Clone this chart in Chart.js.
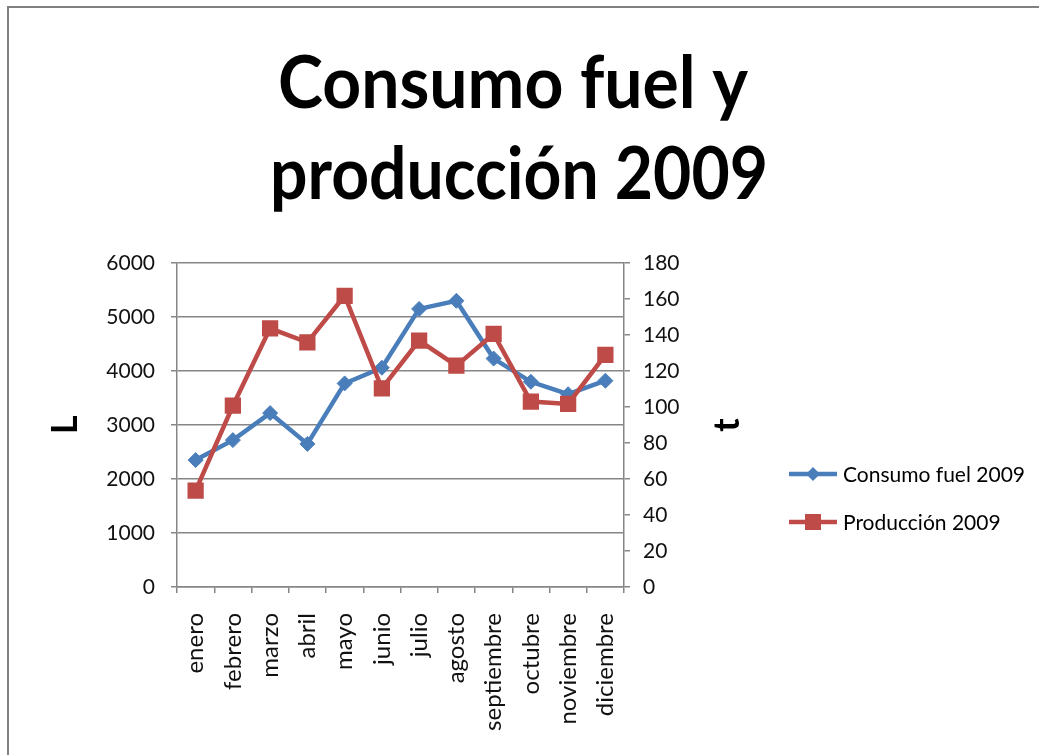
<!DOCTYPE html>
<html>
<head>
<meta charset="utf-8">
<script src="https://cdn.jsdelivr.net/npm/chart.js@4"></script>
<style>
  html, body { margin: 0; padding: 0; background: #fff; }
  #wrap { width: 1039px; height: 755px; position: relative; }
</style>
</head>
<body>
<div id="wrap"><canvas id="grafico"></canvas></div>
<script>
// Datos 2009
const meses = ['enero', 'febrero', 'marzo', 'abril', 'mayo', 'junio', 'julio', 'agosto', 'septiembre', 'octubre', 'noviembre', 'diciembre'];
const consumoFuel = [2350, 2720, 3220, 2650, 3770, 4060, 5150, 5300, 4230, 3800, 3570, 3820];
const produccion = [53.5, 100.7, 143.7, 135.9, 161.8, 110.4, 136.9, 123, 140.6, 103, 101.7, 128.9];
const titulo = ['Consumo fuel y', 'producción 2009'];

const AZUL = '#4A7EBB';
const ROJO = '#BE4B48';
const FUENTE = 'Lato, "Open Sans", sans-serif';

// title, axis titles, legend and frame
const extras = {
    id: 'extras',
    beforeDraw(chart) {
        const ctx = chart.ctx;
        ctx.save();
        ctx.strokeStyle = '#808080';
        ctx.lineWidth = 2;
        ctx.beginPath();
        ctx.moveTo(8, 755);
        ctx.lineTo(8, 7);
        ctx.lineTo(1039, 7);
        ctx.stroke();
        ctx.restore();
    },
    afterDraw(chart) {
        const ctx = chart.ctx;
        ctx.save();
        ctx.fillStyle = '#000';
        ctx.textAlign = 'center';
        ctx.textBaseline = 'alphabetic';
        ctx.font = 'bold 72px ' + FUENTE;
        ctx.fillText(titulo[0], 513, 108, 470);
        ctx.fillText(titulo[1], 519, 199, 498);

        // axis titles
        ctx.font = 'bold 36px ' + FUENTE;
        ctx.textBaseline = 'middle';
        [['L', 65], ['t', 727]].forEach(([txt, x]) => {
            ctx.save();
            ctx.translate(x, 425);
            ctx.rotate(-Math.PI / 2);
            ctx.fillText(txt, 0, 0);
            ctx.restore();
        });

        // legend
        ctx.font = '21px ' + FUENTE;
        ctx.textAlign = 'left';
        chart.data.datasets.forEach((ds, i) => {
            const y = [474, 522][i];
            ctx.strokeStyle = ds.borderColor;
            ctx.lineWidth = 4.5;
            ctx.beginPath();
            ctx.moveTo(789, y);
            ctx.lineTo(837, y);
            ctx.stroke();
            ctx.fillStyle = ds.backgroundColor;
            ctx.beginPath();
            if (ds.pointStyle === 'rect') {
                ctx.rect(813 - 8, y - 8, 16, 16);
            } else {
                ctx.moveTo(813, y - 7); ctx.lineTo(820, y); ctx.lineTo(813, y + 7); ctx.lineTo(806, y);
                ctx.closePath();
            }
            ctx.fill();
            ctx.fillStyle = '#000';
            ctx.fillText(ds.label, 843, y + 1);
        });
        ctx.restore();
    }
};

new Chart(document.getElementById('grafico'), {
    type: 'line',
    data: {
        labels: meses,
        datasets: [
            {
                label: 'Consumo fuel 2009',
                data: consumoFuel,
                yAxisID: 'yL',
                borderColor: AZUL,
                backgroundColor: AZUL,
                borderWidth: 4.5,
                pointStyle: 'rectRot',
                pointRadius: 7.5,
                pointBorderWidth: 1,
                tension: 0,
                order: 1
            },
            {
                label: 'Producción 2009',
                data: produccion,
                yAxisID: 'yT',
                borderColor: ROJO,
                backgroundColor: ROJO,
                borderWidth: 4.5,
                pointStyle: 'rect',
                pointRadius: 11.5,
                pointBorderWidth: 0,
                tension: 0,
                order: 0
            }
        ]
    },
    options: {
        responsive: true,
        maintainAspectRatio: false,
        animation: false,
        layout: { padding: { top: 263, left: 0, right: 0, bottom: 0 } },
        plugins: {
            legend: { display: false },
            title: { display: false },
            tooltip: { enabled: false }
        },
        scales: {
            x: {
                offset: true,
                afterFit: s => { s.height = 168; },
                grid: { display: true, drawOnChartArea: false, offset: true, color: '#868686', tickLength: 6, lineWidth: 1.5 },
                border: { color: '#868686', width: 1.5 },
                ticks: {
                    maxRotation: 90, minRotation: 90, autoSkip: false, padding: 20,
                    color: '#111', font: { family: FUENTE, size: 24 }
                }
            },
            yL: {
                position: 'left',
                min: 0, max: 6000,
                afterFit: s => { s.width = 177; },
                grid: { color: '#868686', tickLength: 6, lineWidth: 1.5 },
                border: { color: '#868686', width: 1.5 },
                ticks: { stepSize: 1000, padding: 16, color: '#111', font: { family: FUENTE, size: 21 }, callback: v => String(v) }
            },
            yT: {
                position: 'right',
                min: 0, max: 180,
                afterFit: s => { s.width = 415; },
                grid: { drawOnChartArea: false, color: '#868686', tickLength: 6, lineWidth: 1.5 },
                border: { color: '#868686', width: 1.5 },
                ticks: { stepSize: 20, padding: 13, color: '#111', font: { family: FUENTE, size: 21 }, callback: v => String(v) }
            }
        }
    },
    plugins: [extras]
});
</script>
</body>
</html>
